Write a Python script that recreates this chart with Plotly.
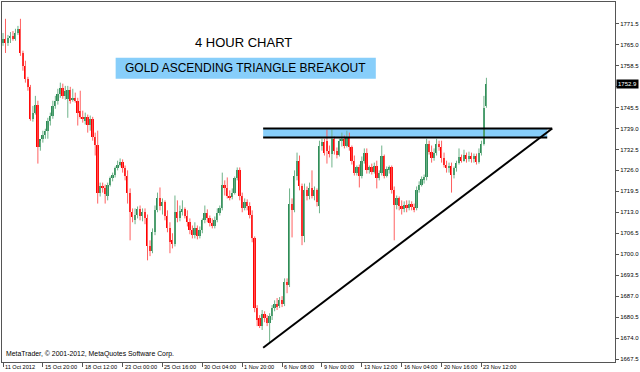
import plotly.graph_objects as go
import numpy as np

# ---------------- data ----------------
opens = [1765.5,1766.8,1765.5,1767.1,1767.7,1766.8,1768.6,1769.9,1762.4,1758.4,
         1754.4,1751.9,1742.0,1743.9,1746.4,1733.4,1735.8,1737.1,1738.3,1741.4,
         1743.0,1746.0,1747.6,1749.8,1751.6,1749.1,1748.2,1751.0,1747.9,1748.5,
         1747.6,1744.5,1742.6,1741.4,1742.6,1740.2,1742.0,1736.5,1734.0,1719.1,
         1721.3,1720.4,1718.2,1721.6,1723.5,1724.7,1726.6,1727.8,1728.7,1726.6,
         1724.4,1719.1,1713.0,1710.5,1712.3,1713.9,1711.7,1713.0,1711.1,1702.4,
         1700.9,1706.8,1713.6,1717.3,1714.8,1716.1,1712.0,1708.0,1704.3,1703.1,
         1713.0,1711.1,1713.3,1713.9,1712.0,1709.9,1707.4,1705.9,1708.0,1705.5,
         1707.4,1710.5,1712.7,1711.1,1709.6,1708.6,1710.5,1712.7,1714.2,1721.6,
         1720.4,1718.2,1717.6,1719.1,1723.5,1726.0,1718.2,1714.2,1716.1,1714.8,
         1712.3,1704.9,1683.3,1680.2,1677.7,1681.4,1680.2,1678.6,1680.8,1683.3,
         1684.5,1683.9,1685.7,1684.5,1691.3,1690.4,1715.7,1713.6,1724.4,1729.0,
         1721.0,1705.5,1719.8,1717.9,1720.4,1718.2,1719.8,1715.1,1733.7,1734.9,
         1735.2,1732.1,1731.2,1735.8,1732.1,1730.9,1735.2,1735.8,1733.7,1736.2,
         1733.1,1729.0,1725.3,1726.9,1724.1,1729.0,1731.5,1726.0,1726.9,1725.6,
         1727.5,1723.5,1725.3,1730.3,1724.4,1726.3,1726.9,1719.8,1715.4,1717.3,
         1714.8,1713.9,1715.4,1714.2,1715.7,1714.5,1714.2,1719.8,1721.6,1723.2,
         1723.8,1734.3,1731.8,1729.7,1731.5,1734.3,1733.1,1729.7,1727.8,1726.6,
         1727.5,1724.7,1726.6,1728.4,1730.0,1729.0,1730.9,1729.4,1730.6,1729.4,
         1730.3,1728.7,1731.5,1734.3,1746.0]
highs = [1768.6,1773.0,1768.0,1768.9,1769.2,1769.9,1770.8,1773.0,1763.1,1760.0,
         1755.0,1752.5,1746.0,1749.1,1747.6,1735.2,1738.3,1738.9,1742.3,1743.9,
         1747.6,1749.1,1751.3,1753.2,1752.9,1752.2,1752.2,1751.9,1751.3,1750.1,
         1748.5,1750.7,1744.5,1743.9,1743.3,1743.0,1742.6,1737.7,1738.3,1722.2,
         1722.2,1721.6,1722.2,1724.1,1725.3,1727.2,1729.0,1729.7,1729.4,1727.5,
         1726.0,1720.4,1714.2,1714.2,1714.8,1715.1,1714.2,1714.2,1712.3,1704.3,
         1708.0,1715.1,1719.1,1720.7,1717.3,1716.7,1713.6,1709.9,1706.5,1718.2,
         1716.7,1715.1,1716.7,1714.5,1713.6,1711.1,1708.9,1709.9,1708.9,1708.6,
         1711.1,1715.1,1713.9,1712.0,1711.1,1711.7,1714.2,1715.1,1725.3,1722.9,
         1723.8,1719.8,1720.4,1724.1,1726.9,1726.9,1719.1,1717.3,1717.0,1716.1,
         1713.6,1705.5,1684.2,1681.1,1682.7,1682.3,1681.1,1681.7,1684.2,1685.7,
         1686.4,1686.7,1687.0,1692.5,1692.5,1720.4,1717.3,1726.0,1731.5,1730.6,
         1721.9,1721.9,1721.0,1722.2,1726.0,1721.0,1720.4,1735.2,1735.8,1735.8,
         1738.6,1733.7,1738.6,1736.5,1733.1,1735.8,1737.7,1736.8,1738.3,1737.7,
         1733.7,1730.6,1727.5,1727.8,1730.3,1732.8,1732.8,1727.5,1728.1,1728.4,
         1729.0,1726.0,1733.7,1730.9,1727.2,1727.5,1727.5,1721.0,1718.2,1717.9,
         1716.7,1716.4,1716.7,1716.7,1716.4,1715.7,1721.0,1722.6,1724.1,1724.7,
         1735.8,1735.2,1733.7,1732.8,1735.8,1735.2,1735.2,1731.5,1729.0,1728.4,
         1728.4,1727.2,1729.0,1732.8,1730.9,1732.4,1731.5,1731.8,1731.5,1731.2,
         1731.2,1732.8,1735.2,1749.1,1754.7]
lows = [1764.6,1762.4,1764.6,1765.5,1766.2,1766.2,1768.0,1761.5,1756.9,1753.2,
        1750.7,1741.4,1741.1,1743.3,1728.1,1732.1,1734.6,1735.8,1735.8,1739.9,
        1742.0,1745.1,1746.4,1748.5,1748.2,1747.9,1742.3,1746.7,1747.3,1747.0,
        1739.9,1742.0,1740.8,1740.2,1737.7,1738.3,1735.2,1730.6,1715.7,1717.9,
        1719.1,1715.7,1716.7,1721.0,1722.6,1723.8,1726.0,1727.2,1725.3,1722.9,
        1715.7,1704.3,1709.9,1709.3,1711.1,1710.5,1710.2,1709.3,1698.1,1699.4,
        1700.3,1705.9,1713.0,1713.6,1712.3,1710.5,1706.8,1700.3,1701.8,1702.4,
        1709.9,1710.2,1712.0,1711.1,1708.6,1706.2,1704.9,1704.9,1704.6,1704.9,
        1706.5,1709.6,1709.9,1708.6,1708.0,1708.0,1709.9,1712.0,1713.6,1718.2,
        1717.3,1716.7,1717.0,1718.5,1722.9,1716.7,1713.0,1713.6,1713.6,1711.1,
        1703.7,1682.0,1677.7,1677.1,1676.5,1678.9,1677.7,1672.5,1679.6,1682.3,
        1682.7,1683.3,1683.6,1683.9,1687.9,1689.8,1705.2,1713.0,1722.9,1719.8,
        1702.8,1703.7,1716.7,1717.0,1717.3,1716.7,1714.8,1712.7,1732.1,1730.6,
        1728.1,1730.0,1726.9,1730.9,1729.7,1730.3,1733.4,1732.8,1733.1,1732.1,
        1727.8,1724.4,1724.4,1720.7,1723.5,1728.1,1725.0,1725.0,1724.7,1725.0,
        1720.4,1722.9,1724.4,1723.5,1723.8,1725.0,1718.8,1704.3,1713.9,1713.6,
        1712.3,1713.0,1713.0,1713.6,1713.6,1713.0,1713.6,1719.1,1721.0,1721.9,
        1722.9,1730.9,1728.4,1729.0,1730.6,1732.1,1728.4,1726.9,1725.3,1725.3,
        1719.1,1723.5,1725.6,1727.8,1728.4,1728.7,1728.4,1728.7,1728.4,1728.4,
        1727.8,1728.1,1730.6,1733.7,1745.4]
closes = [1766.8,1765.5,1767.1,1767.7,1766.8,1768.6,1769.9,1762.4,1758.4,1754.4,
          1751.9,1742.0,1743.9,1746.4,1733.4,1735.8,1737.1,1738.3,1741.4,1743.0,
          1746.0,1747.6,1749.8,1751.6,1749.1,1750.7,1751.0,1747.6,1748.5,1747.6,
          1743.9,1742.6,1742.0,1742.6,1740.2,1742.0,1736.5,1734.0,1719.1,1721.3,
          1720.4,1718.8,1721.6,1723.5,1724.7,1726.6,1727.8,1728.7,1726.6,1724.4,
          1719.1,1713.0,1711.4,1712.3,1713.9,1711.7,1713.0,1711.1,1702.4,1700.9,
          1706.8,1713.6,1717.3,1715.1,1716.1,1712.0,1708.0,1703.7,1703.1,1713.0,
          1711.1,1713.3,1713.9,1712.0,1709.9,1707.4,1705.9,1708.0,1705.5,1707.4,
          1710.5,1712.7,1711.1,1709.6,1708.6,1710.5,1712.7,1714.2,1721.6,1720.4,
          1718.2,1717.6,1719.1,1723.5,1726.0,1718.2,1714.2,1716.1,1714.8,1712.3,
          1704.9,1683.3,1679.6,1677.7,1681.4,1680.2,1678.6,1680.8,1683.3,1684.5,
          1683.9,1685.7,1684.5,1691.3,1690.4,1715.7,1713.6,1724.4,1729.0,1721.0,
          1705.5,1719.8,1717.9,1720.4,1718.2,1719.8,1716.1,1733.7,1734.9,1731.5,
          1732.1,1731.2,1735.8,1732.1,1730.9,1735.2,1735.8,1733.7,1736.2,1733.1,
          1729.0,1725.3,1726.9,1724.1,1729.0,1731.5,1726.0,1726.9,1725.6,1727.5,
          1723.5,1725.3,1730.3,1724.4,1726.3,1726.9,1719.8,1715.4,1717.3,1714.8,
          1713.9,1715.4,1714.2,1715.7,1714.5,1713.9,1719.8,1721.6,1723.2,1723.8,
          1734.3,1731.8,1729.7,1731.5,1734.3,1733.1,1729.7,1727.8,1726.6,1727.5,
          1724.7,1726.6,1728.4,1730.0,1729.0,1730.9,1729.4,1730.6,1729.4,1730.3,
          1728.7,1731.5,1734.3,1745.4,1752.9]

tick_bars = [0, 16, 32, 48, 64, 80, 96, 112, 128, 144, 160, 176, 192]
tick_labels = ["11 Oct 2012", "15 Oct 20:00", "18 Oct 12:00", "23 Oct 00:00",
               "25 Oct 16:00", "30 Oct 04:00", "1 Nov 20:00", "6 Nov 08:00",
               "9 Nov 00:00", "13 Nov 12:00", "16 Nov 04:00", "20 Nov 16:00",
               "23 Nov 12:00"]
price_ticks = [1667.5, 1674.0, 1680.5, 1687.0, 1693.5, 1700.0, 1706.5, 1713.0,
               1719.5, 1726.0, 1732.5, 1739.0, 1745.5, 1752.0, 1758.5, 1765.0,
               1771.5]

# drawn objects (bar index, price)
band_x = [104.4, 218.4]
band_top = 1739.0
band_bottom = 1736.2
band_top_end = 220.4
trend_x = [104.4, 220.4]
trend_y = [1671.0, 1739.0]
last_price = 1752.9

# ---------------- figure ----------------
o = np.array(opens); h = np.array(highs); l = np.array(lows); c = np.array(closes)
idx = np.arange(len(o))
up = c >= o
dn = ~up

GREEN = "#2E8B57"
RED = "#FF0000"
GREEN_W = "#6fb38a"
RED_W = "#ff6060"

def wick_xy(mask):
    xs, ys = [], []
    for i in idx[mask]:
        xs += [i, i, None]
        ys += [l[i], h[i], None]
    return xs, ys

fig = go.Figure()
for mask, wc in ((up, GREEN_W), (dn, RED_W)):
    xs, ys = wick_xy(mask)
    fig.add_trace(go.Scatter(x=xs, y=ys, mode="lines",
                             line=dict(color=wc, width=1),
                             hoverinfo="skip", showlegend=False))
for mask, bc in ((up, GREEN), (dn, RED)):
    base = np.minimum(o, c)[mask]
    hgt = np.maximum(np.abs(c - o)[mask], 0.3)
    fig.add_trace(go.Bar(x=idx[mask], y=hgt, base=base, width=0.72,
                         marker=dict(color=bc, line=dict(width=0)),
                         hoverinfo="skip", showlegend=False))

shapes = [
    dict(type="rect", xref="x", yref="y", x0=band_x[0], x1=band_x[1],
         y0=band_bottom, y1=band_top, fillcolor="#87CEFA",
         line=dict(width=0), layer="below"),
    dict(type="line", xref="x", yref="y", x0=band_x[0], x1=band_top_end,
         y0=band_top, y1=band_top, line=dict(color="black", width=2)),
    dict(type="line", xref="x", yref="y", x0=band_x[0], x1=band_x[1],
         y0=band_bottom, y1=band_bottom, line=dict(color="black", width=2)),
    dict(type="line", xref="x", yref="y", x0=trend_x[0], x1=trend_x[1],
         y0=trend_y[0], y1=trend_y[1], line=dict(color="black", width=2)),
    dict(type="rect", xref="paper", yref="paper", x0=0.1854, x1=0.6098,
         y0=0.7867, y1=0.8449, fillcolor="#87CEFA", line=dict(width=0),
         layer="below"),
]

FONT = "Arial, Liberation Sans, sans-serif"
annotations = [
    dict(text="4 HOUR CHART", xref="paper", yref="paper", x=0.3935, y=0.8878,
         xanchor="center", yanchor="middle", showarrow=False,
         font=dict(family=FONT, size=13, color="black")),
    dict(text="GOLD ASCENDING TRIANGLE BREAKOUT", xref="paper", yref="paper",
         x=0.3976, y=0.8158, xanchor="center", yanchor="middle",
         showarrow=False, font=dict(family=FONT, size=12, color="black")),
    dict(text="MetaTrader, © 2001-2012, MetaQuotes Software Corp.",
         xref="paper", yref="paper", x=0, y=0, xanchor="left",
         yanchor="bottom", xshift=2, yshift=2, showarrow=False,
         font=dict(family=FONT, size=6.9, color="black")),
    dict(text=f"{last_price:.1f}", xref="paper", yref="y", x=1, y=last_price,
         xanchor="left", yanchor="middle", xshift=1, showarrow=False,
         bgcolor="black", borderpad=1,
         font=dict(family=FONT, size=6, color="white")),
]
for tb, tl in zip(tick_bars, tick_labels):
    annotations.append(dict(text=tl, xref="x", yref="paper", x=tb, y=0,
                            xanchor="left", yanchor="top", xshift=0, yshift=0,
                            showarrow=False,
                            font=dict(family=FONT, size=5.6, color="black")))

# the last-price box covers the 1752.0 label, as in the original
price_text = ["" if v == 1752.0 else f"{v:.1f}" for v in price_ticks]

fig.update_layout(
    width=640, height=372,
    margin=dict(l=1, r=24, t=1, b=10),
    paper_bgcolor="white", plot_bgcolor="white",
    barmode="overlay", bargap=0,
    shapes=shapes, annotations=annotations,
    showlegend=False,
    xaxis=dict(range=[-0.4, 245.6], showgrid=False, zeroline=False,
               tickvals=tick_bars, ticks="outside", ticklen=4,
               tickcolor="#555555", showticklabels=False,
               showline=True, mirror=True, linecolor="#555555", linewidth=1,
               fixedrange=True),
    yaxis=dict(range=[1666.57, 1778.21], side="right", showgrid=False,
               zeroline=False, tickvals=price_ticks, ticktext=price_text,
               ticks="outside", ticklen=3, tickcolor="#555555",
               tickfont=dict(family=FONT, size=6, color="black"),
               showline=True, mirror=True, linecolor="#555555", linewidth=1,
               fixedrange=True),
)

fig.write_html("out.html")
